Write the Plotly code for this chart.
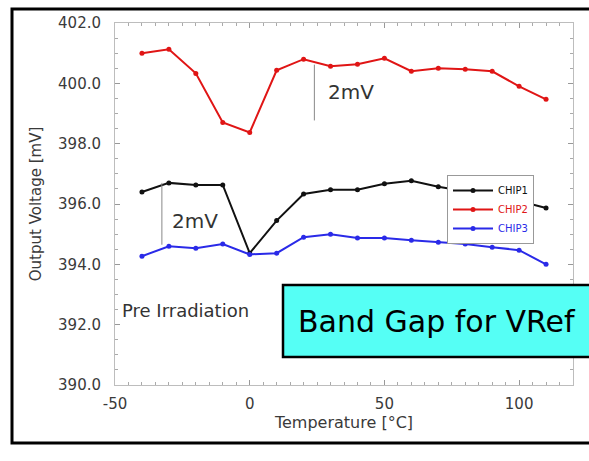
import plotly.graph_objects as go

temps = [-40, -30, -20, -10, 0, 10, 20, 30, 40, 50, 60, 70, 80, 90, 100, 110]
chip1 = [396.40, 396.70, 396.63, 396.63, 394.37, 395.45, 396.33, 396.47, 396.47, 396.67, 396.77, 396.57, 396.42, 396.27, 396.10, 395.87]
chip2 = [401.00, 401.13, 400.33, 398.70, 398.37, 400.43, 400.80, 400.57, 400.63, 400.83, 400.40, 400.50, 400.47, 400.40, 399.90, 399.47]
chip3 = [394.27, 394.60, 394.53, 394.67, 394.33, 394.37, 394.90, 395.00, 394.87, 394.87, 394.80, 394.73, 394.67, 394.57, 394.47, 394.00]
series_names = ["CHIP1", "CHIP2", "CHIP3"]
series_colors = ["#111111", "#e01515", "#2a2ae8"]
y_ticks = [390, 392, 394, 396, 398, 400, 402]
x_ticks = [-50, 0, 50, 100]
x_ticktext = ["-50", "0", "50", "100"]

FONT = "DejaVu Sans"
TXT = "#3a3a3a"

fig = go.Figure()
for name, vals, col in zip(series_names, [chip1, chip2, chip3], series_colors):
    fig.add_trace(go.Scatter(
        x=temps, y=vals, mode="lines+markers",
        name=f"<span style='color:{col}'>{name}</span>",
        line=dict(color=col, width=2),
        marker=dict(color=col, size=5, symbol="circle"),
    ))

W, H = 589, 461
L, R, T, B = 115, 16, 23, 76
pw, ph = W - L - R, H - T - B

def px(x):
    return (x - L) / pw

def py(y):
    return (H - B - y) / ph

axis_common = dict(
    showline=True, linecolor="#bdbdbd", linewidth=1, mirror="ticks",
    ticks="inside", ticklen=5, tickcolor="#999999",
    showgrid=False, zeroline=False,
    tickfont=dict(family=FONT, size=15, color=TXT),
)

fig.update_layout(
    width=W, height=H,
    margin=dict(l=L, r=R, t=T, b=B),
    paper_bgcolor="white", plot_bgcolor="white",
    showlegend=True,
    legend=dict(
        x=px(447), y=py(175), xanchor="left", yanchor="top",
        bgcolor="white", bordercolor="#999999", borderwidth=1,
        font=dict(family=FONT, size=10),
        itemwidth=40, tracegroupgap=0,
    ),
    xaxis=dict(range=[-50, 120], tickvals=x_ticks, ticktext=x_ticktext, ticklabelstandoff=5,
               minor=dict(dtick=5, ticks="inside", ticklen=3, tickcolor="#aaaaaa"),
               title=dict(text="Temperature [°C]", standoff=3,
                          font=dict(family=FONT, size=16, color=TXT)),
               **axis_common),
    yaxis=dict(range=[390, 402], tickvals=y_ticks, tickformat=".1f", ticklabelstandoff=10,
               minor=dict(dtick=0.5, ticks="inside", ticklen=3, tickcolor="#aaaaaa"),
               title=dict(text="Output Voltage [mV]", standoff=12,
                          font=dict(family=FONT, size=15, color=TXT)),
               **axis_common),
)

shapes = [
    # outer frame
    dict(type="rect", xref="paper", yref="paper", x0=px(12), x1=px(600), y0=py(443), y1=py(9),
         line=dict(color="black", width=3), layer="above"),
    # 2mV markers
    dict(type="line", xref="x", yref="y", x0=-32.6, x1=-32.6, y0=396.7, y1=394.65,
         line=dict(color="#888888", width=1)),
    dict(type="line", xref="x", yref="y", x0=24, x1=24, y0=400.62, y1=398.77,
         line=dict(color="#888888", width=1)),
    # cyan label box
    dict(type="rect", xref="paper", yref="paper", x0=px(283), x1=px(592), y0=py(357), y1=py(285),
         fillcolor="#55fff5", line=dict(color="black", width=2.5), layer="above"),
]
fig.update_layout(shapes=shapes)

annotations = [
    dict(x=-29.5, y=395.45, xref="x", yref="y", text="2mV", showarrow=False,
         xanchor="left", font=dict(family=FONT, size=20, color="#333333")),
    dict(x=28.5, y=399.7, xref="x", yref="y", text="2mV", showarrow=False,
         xanchor="left", font=dict(family=FONT, size=20, color="#333333")),
    dict(x=px(120), y=py(323), xref="paper", yref="paper", text="Pre Irradiation", showarrow=False,
         xanchor="left", font=dict(family=FONT, size=18, color="#333333")),
    dict(x=px(437), y=py(321), xref="paper", yref="paper", text="Band Gap for VRef", showarrow=False,
         xanchor="center", yanchor="middle",
         font=dict(family=FONT, size=30, color="black")),
]
fig.update_layout(annotations=annotations)

fig.write_html("out.html")
